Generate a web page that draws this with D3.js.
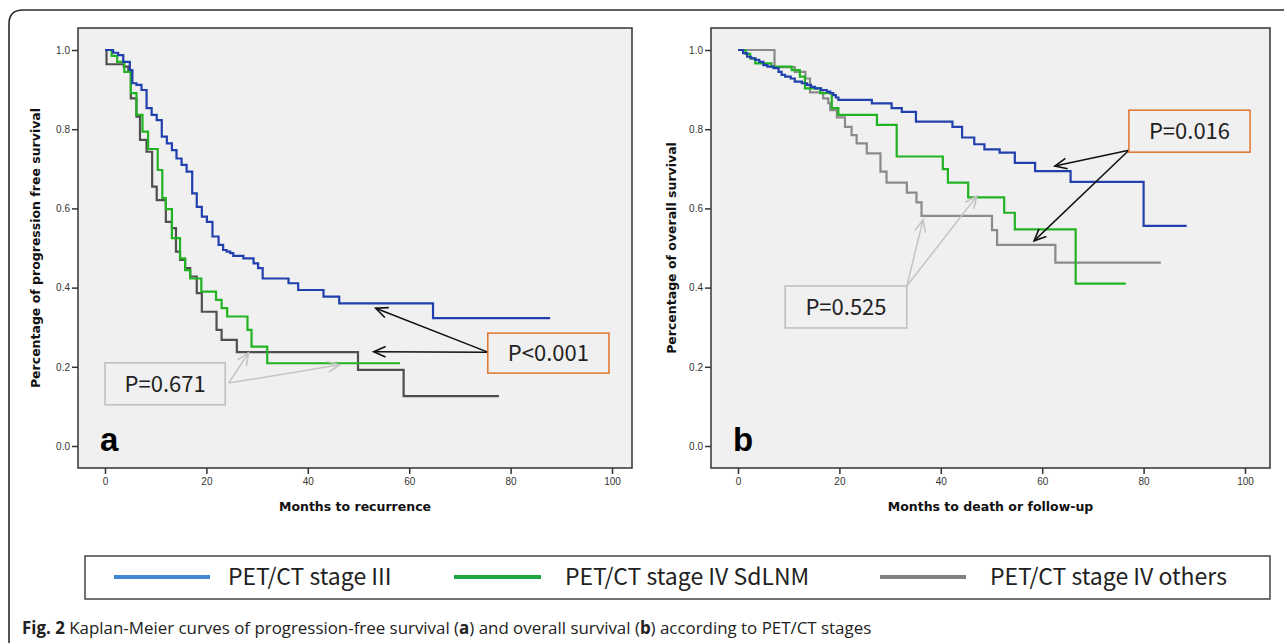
<!DOCTYPE html>
<html><head><meta charset="utf-8">
<script src="https://cdn.jsdelivr.net/npm/d3@7"></script>
<style>
html,body{margin:0;padding:0;background:#fff;}
svg{display:block;}
</style></head>
<body>
<svg id="chart" width="1284" height="643"></svg>
<script>
// ---------- data ----------
const monthTicks = [0, 20, 40, 60, 80, 100];
const survTicks = [0.0, 0.2, 0.4, 0.6, 0.8, 1.0];
const seriesNames = ["PET/CT stage III", "PET/CT stage IV SdLNM", "PET/CT stage IV others"];
const panelLetters = ["a", "b"];
const xTitles = ["Months to recurrence", "Months to death or follow-up"];
const yTitles = ["Percentage of progression free survival", "Percentage of overall survival"];

// panel a: progression-free survival  [month, survival after step]
const pfsStage3 = [[0,1.0],[1.6,0.993],[2.6,0.987],[3.6,0.970],[4.9,0.949],[5.4,0.916],[6.2,0.912],[7.2,0.899],[8.2,0.853],[9.2,0.836],[10.2,0.823],[11.2,0.781],[12.2,0.764],[13.2,0.747],[14.1,0.726],[15.1,0.710],[16.1,0.693],[17.2,0.638],[18.1,0.604],[19.1,0.579],[20.1,0.566],[21.2,0.529],[22.4,0.508],[23.3,0.495],[24.0,0.491],[24.7,0.487],[25.3,0.480],[27.3,0.474],[29.3,0.461],[30.2,0.449],[31.1,0.423],[36.2,0.411],[38.1,0.394],[43.1,0.377],[46.2,0.360],[64.7,0.323],[87.8,0.323]];
const pfsSdLNM = [[0,1.0],[1.3,0.985],[2.4,0.970],[3.8,0.945],[5.1,0.891],[6.2,0.836],[7.4,0.794],[8.5,0.750],[10.4,0.697],[11.3,0.626],[12.0,0.598],[13.2,0.525],[14.8,0.474],[15.8,0.444],[16.8,0.423],[19.0,0.390],[21.9,0.369],[23.0,0.348],[24.1,0.327],[28.1,0.293],[28.9,0.251],[32.0,0.209],[58.2,0.209]];
const pfsOthers = [[0,1.0],[0.3,0.964],[3.7,0.958],[4.6,0.949],[5.1,0.878],[6.2,0.832],[6.9,0.773],[8.2,0.743],[9.3,0.655],[10.2,0.621],[12.0,0.566],[13.2,0.550],[14.0,0.491],[14.8,0.470],[15.8,0.449],[16.8,0.428],[18.1,0.386],[19.1,0.339],[22.0,0.293],[23.0,0.268],[26.0,0.237],[49.9,0.192],[58.9,0.126],[77.7,0.126]];

// panel b: overall survival
const osStage3 = [[0,1.0],[1.0,0.992],[1.8,0.983],[2.6,0.979],[3.4,0.975],[4.2,0.970],[5.0,0.962],[5.8,0.958],[7.0,0.954],[8.0,0.945],[8.6,0.937],[9.3,0.933],[10.4,0.928],[11.2,0.920],[12.6,0.916],[13.6,0.912],[14.4,0.907],[15.2,0.903],[16.4,0.899],[17.5,0.895],[18.2,0.891],[18.8,0.886],[19.3,0.880],[19.8,0.874],[26.4,0.865],[30.3,0.853],[32.3,0.844],[35.1,0.819],[42.3,0.806],[44.2,0.779],[46.6,0.762],[48.6,0.749],[51.6,0.741],[54.6,0.715],[58.6,0.694],[65.6,0.667],[80.0,0.556],[88.5,0.556]];
const osSdLNM = [[0,1.0],[1.5,0.990],[2.4,0.979],[3.4,0.966],[6.6,0.958],[10.6,0.949],[12.2,0.933],[13.2,0.903],[16.2,0.891],[18.5,0.853],[19.8,0.836],[27.4,0.811],[31.3,0.731],[40.4,0.699],[41.4,0.665],[45.4,0.628],[52.5,0.589],[54.6,0.547],[66.6,0.410],[76.5,0.410]];
const osOthers = [[0,1.0],[7.2,0.957],[11.2,0.945],[13.3,0.928],[14.2,0.893],[16.8,0.878],[17.8,0.866],[18.2,0.848],[19.5,0.830],[21.1,0.806],[22.4,0.785],[23.4,0.764],[25.4,0.739],[28.1,0.693],[29.3,0.665],[33.3,0.640],[35.2,0.615],[36.2,0.581],[50.1,0.545],[51.1,0.508],[62.6,0.463],[83.4,0.463]];

const pLabels = ["P<0.001", "P=0.671", "P=0.016", "P=0.525"];

// ---------- drawing ----------
const svg = d3.select("#chart");
const FONT = "'Liberation Sans', Arial, sans-serif";
const TFONT = "'DejaVu Sans', Verdana, sans-serif";
const LFONT = "'Noto Sans CJK KR', 'Noto Sans', sans-serif";

// outer rounded border
svg.append("path")
  .attr("d", "M1284,10 L23,10 Q9,10 9,24 L9,643")
  .attr("fill", "none").attr("stroke", "#2b2b2b").attr("stroke-width", 1.6);

const panels = [
  { left: 78, right: 632, x0: 105, x100: 612, data: [pfsStage3, pfsSdLNM, pfsOthers], grayCol: "#4f4f4f", ytitleX: 36,
    notes: [
      { box: [75.5, 99.4, 0.285, 0.184], text: pLabels[0], stroke: "#e0732a", arrowCol: "#111", from: [75.5, 0.237], tips: [[53.4, 0.348], [53.0, 0.238]] },
      { box: [0, 23.7, 0.210, 0.104], text: pLabels[1], stroke: "#bdbdbd", arrowCol: "#c4c4c4", from: [24.4, 0.159], tips: [[28.3, 0.235], [46.3, 0.205]] }
    ] },
  { left: 711, right: 1270, x0: 738, x100: 1245, data: [osStage3, osSdLNM, osOthers], grayCol: "#8a8a8a", ytitleX: 672,
    notes: [
      { box: [77.1, 101.0, 0.848, 0.742], text: pLabels[2], stroke: "#e0732a", arrowCol: "#111", from: [77.1, 0.747], tips: [[62.5, 0.707], [58.4, 0.518]] },
      { box: [9.3, 33.3, 0.404, 0.298], text: pLabels[3], stroke: "#bdbdbd", arrowCol: "#c4c4c4", from: [33.3, 0.404], tips: [[36.5, 0.571], [47.1, 0.631]] }
    ] }
];
const TOP = 28, BOTTOM = 468;

panels.forEach((p, i) => {
  const x = d3.scaleLinear().domain([0, 100]).range([p.x0, p.x100]);
  const y = d3.scaleLinear().domain([0, 1]).range([446, 50]);
  const g = svg.append("g");

  g.append("rect").attr("x", p.left).attr("y", TOP)
    .attr("width", p.right - p.left).attr("height", BOTTOM - TOP)
    .attr("fill", "#f0f0f0").attr("stroke", "#333").attr("stroke-width", 1.5);

  const ya = g.append("g").attr("transform", `translate(${p.left},0)`)
    .call(d3.axisLeft(y).tickValues(survTicks).tickFormat(d3.format(".1f")).tickSize(6).tickPadding(2));
  const xa = g.append("g").attr("transform", `translate(0,${BOTTOM})`)
    .call(d3.axisBottom(x).tickValues(monthTicks).tickSize(6).tickPadding(4));
  [ya, xa].forEach(a => {
    a.select(".domain").remove();
    a.selectAll("line").attr("stroke", "#333").attr("stroke-width", 1.5);
    a.selectAll("text").attr("font-family", FONT).attr("font-size", 10).attr("fill", "#333");
  });

  g.append("text").attr("x", (p.left + p.right) / 2).attr("y", 511)
    .attr("text-anchor", "middle").attr("font-family", TFONT).attr("font-weight", "bold")
    .attr("font-size", 12.5).attr("fill", "#111").text(xTitles[i]);
  g.append("text").attr("transform", `translate(${p.ytitleX},${y(0.5)}) rotate(-90)`)
    .attr("text-anchor", "middle").attr("dy", "0.35em").attr("font-family", TFONT).attr("font-weight", "bold")
    .attr("font-size", 12.5).attr("fill", "#111").text(yTitles[i]);

  const colors = ["#2140ad", "#22b322", p.grayCol];
  const line = d3.line().x(d => x(d[0])).y(d => y(d[1])).curve(d3.curveStepAfter);
  [2, 1, 0].forEach(k => {
    g.append("path").datum(p.data[k]).attr("d", line)
      .attr("fill", "none").attr("stroke", colors[k]).attr("stroke-width", 2.2);
  });

  g.append("text").attr("x", p.left + 22).attr("y", BOTTOM - 17)
    .attr("font-family", FONT).attr("font-weight", "bold").attr("font-size", 33)
    .attr("fill", "#000").text(panelLetters[i]);

  p.notes.forEach(n => {
    const bx = x(n.box[0]), bx2 = x(n.box[1]), by = y(n.box[2]), by2 = y(n.box[3]);
    n.tips.forEach(t => {
      const x1 = x(n.from[0]), y1 = y(n.from[1]), x2 = x(t[0]), y2 = y(t[1]);
      g.append("line").attr("x1", x1).attr("y1", y1).attr("x2", x2).attr("y2", y2)
        .attr("stroke", n.arrowCol).attr("stroke-width", 1.5);
      const ang = Math.atan2(y1 - y2, x1 - x2), L = 13, A = 0.42;
      g.append("path")
        .attr("d", `M${x2 + L * Math.cos(ang + A)},${y2 + L * Math.sin(ang + A)} L${x2},${y2} L${x2 + L * Math.cos(ang - A)},${y2 + L * Math.sin(ang - A)}`)
        .attr("fill", "none").attr("stroke", n.arrowCol).attr("stroke-width", 1.6);
    });
    g.append("rect").attr("x", bx).attr("y", by).attr("width", bx2 - bx).attr("height", by2 - by)
      .attr("fill", "#f0f0f0").attr("stroke", n.stroke).attr("stroke-width", 1.5);
    g.append("text").attr("x", (bx + bx2) / 2).attr("y", (by + by2) / 2).attr("dy", "0.36em")
      .attr("text-anchor", "middle").attr("font-family", LFONT).attr("font-size", 22)
      .attr("fill", "#222").text(n.text);
  });
});

// legend
const legendCols = ["#3f87d2", "#1ea640", "#808080"];
const legendX = [[114, 210, 228], [454, 541, 565], [880, 966, 990]];
svg.append("rect").attr("x", 85).attr("y", 556).attr("width", 1185).attr("height", 43)
  .attr("fill", "#fff").attr("stroke", "#444").attr("stroke-width", 1.5);
seriesNames.forEach((s, k) => {
  svg.append("line").attr("x1", legendX[k][0]).attr("x2", legendX[k][1]).attr("y1", 577).attr("y2", 577)
    .attr("stroke", legendCols[k]).attr("stroke-width", 4);
  svg.append("text").attr("x", legendX[k][2]).attr("y", 577).attr("dy", "0.36em")
    .attr("font-family", LFONT).attr("font-size", 23).attr("fill", "#222").text(s);
});

// caption
const cap = svg.append("text").attr("x", 22).attr("y", 634)
  .attr("font-family", "'Open Sans', sans-serif").attr("font-size", 17).attr("fill", "#222");
cap.append("tspan").attr("font-weight", "bold").text("Fig. 2");
cap.append("tspan").text(" Kaplan-Meier curves of progression-free survival (");
cap.append("tspan").attr("font-weight", "bold").text("a");
cap.append("tspan").text(") and overall survival (");
cap.append("tspan").attr("font-weight", "bold").text("b");
cap.append("tspan").text(") according to PET/CT stages");
// scale font so the caption spans the same width as in the figure
const capLen = cap.node().getComputedTextLength();
cap.attr("font-size", 17 * 850 / capLen);
</script>
</body></html>
